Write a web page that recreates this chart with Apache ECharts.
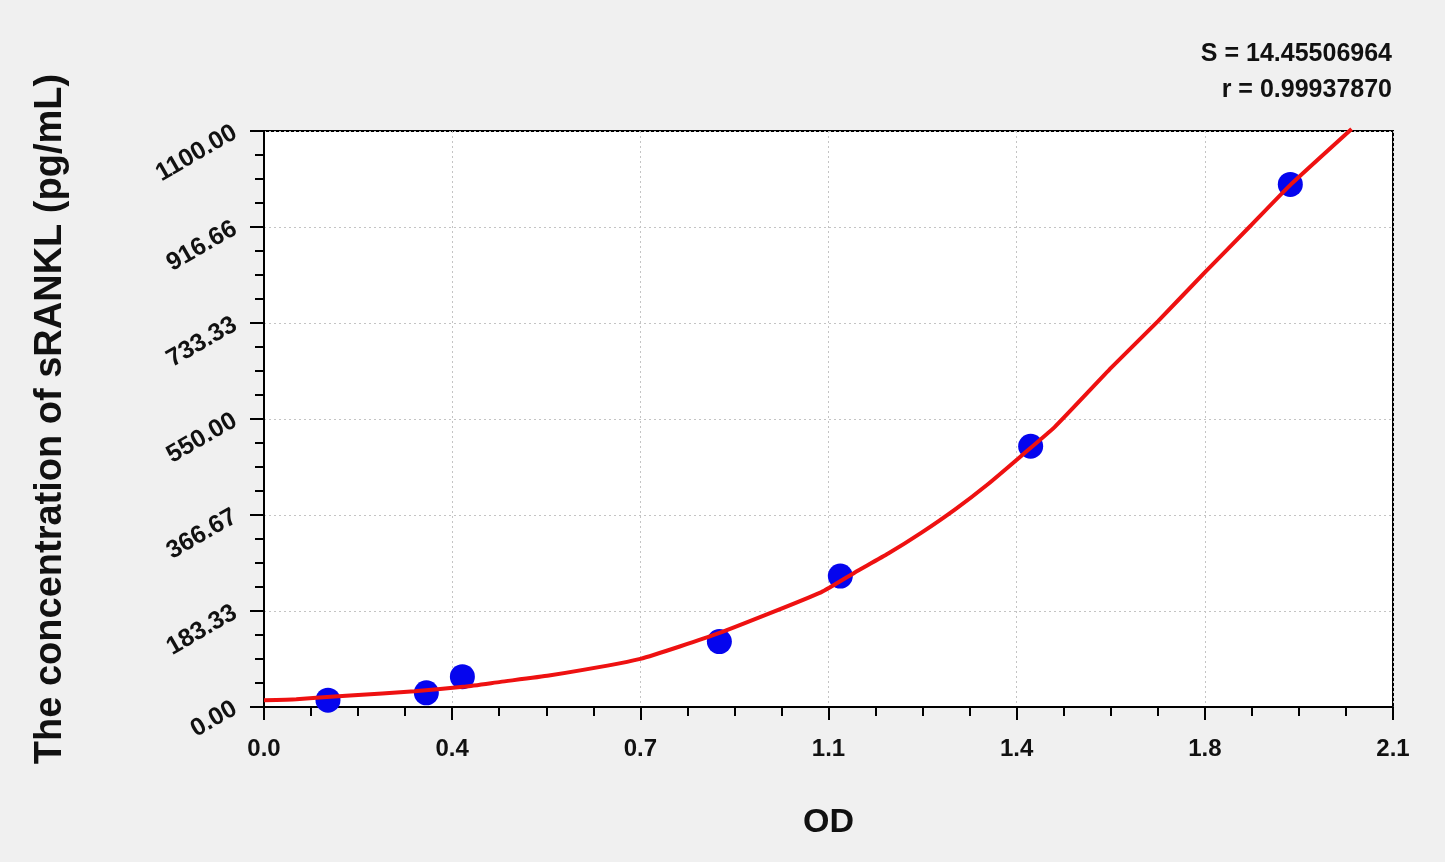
<!DOCTYPE html>
<head>
    <title>sRANKL standard curve</title>
    <script src="https://cdn.jsdelivr.net/npm/echarts@6/dist/echarts.min.js"></script>
    <style>
        html, body { margin: 0; padding: 0; background: #f0f0f0; }
        #chart { width: 1445px; height: 862px; }
    </style>
</head>
<body>
<div id="chart"></div>
<script>
    // standard points (OD, concentration)
    var odValues = [0.119, 0.302, 0.369, 0.847, 1.072, 1.426, 1.909];
    var concValues = [13, 27, 58, 125, 250, 498, 998];

    // fitted curve
    var curveOd = [0, 0.06, 0.16, 0.28, 0.375, 0.44, 0.53, 0.70, 0.846, 1.036, 1.099, 1.161, 1.223, 1.285, 1.347, 1.409, 1.471, 1.576, 1.663, 1.75, 1.836, 1.911, 2.023];
    var curveConc = [13, 15, 22, 30, 39, 48, 60, 92, 141, 219, 257, 293, 333, 377, 426, 480, 535, 648, 737, 830, 920, 999, 1104];

    var xTickLabels = ['0.0', '0.4', '0.7', '1.1', '1.4', '1.8', '2.1'];
    var yTickLabels = ['0.00', '183.33', '366.67', '550.00', '733.33', '916.66', '1100.00'];

    var statLines = ['S = 14.45506964', 'r = 0.99937870'];

    function pairs(xs, ys) {
        var out = [];
        for (var i = 0; i < xs.length; i++) {
            out.push([xs[i], ys[i]]);
        }
        return out;
    }

    var chart = echarts.init(document.getElementById('chart'));
    var fontFam = '"Liberation Sans", Arial, sans-serif';

    var statText = statLines.map(function (t, i) {
        return {
            type: 'text',
            right: 53,
            top: 33 + i * 36,
            style: {
                text: t,
                font: 'bold 25px ' + fontFam,
                fill: '#111',
                textAlign: 'right'
            }
        };
    });

    var option = {
        backgroundColor: '#f0f0f0',
        animation: false,
        graphic: statText,
        grid: {
            left: 264,
            right: 52,
            top: 131,
            bottom: 155,
            show: true,
            backgroundColor: '#ffffff',
            borderColor: '#000',
            borderWidth: 2
        },
        xAxis: {
            type: 'value',
            min: 0,
            max: 2.1,
            interval: 0.35,
            name: 'OD',
            nameLocation: 'middle',
            nameGap: 86,
            nameTextStyle: {
                fontFamily: fontFam,
                fontSize: 34,
                fontWeight: 'bold',
                color: '#111'
            },
            axisLine: { show: true, lineStyle: { color: '#000', width: 2 } },
            axisTick: { show: true, inside: false, length: 13, lineStyle: { color: '#000', width: 2 } },
            minorTick: { show: true, splitNumber: 4, length: 9, lineStyle: { color: '#000', width: 2 } },
            axisLabel: {
                margin: 22,
                fontFamily: fontFam,
                fontSize: 24,
                fontWeight: 'bold',
                color: '#111',
                formatter: function (v) {
                    var i = Math.round(v / 0.35);
                    return xTickLabels[i];
                }
            },
            splitLine: { show: true, lineStyle: { color: '#c4c4c4', type: [2, 3], width: 1 } }
        },
        yAxis: {
            type: 'value',
            min: 0,
            max: 1100,
            interval: 1100 / 6,
            name: 'The concentration of sRANKL (pg/mL)',
            nameLocation: 'middle',
            nameGap: 181,
            nameRotate: 90,
            nameTextStyle: {
                fontFamily: fontFam,
                fontSize: 38,
                fontWeight: 'bold',
                color: '#111'
            },
            axisLine: { show: true, lineStyle: { color: '#000', width: 2 } },
            axisTick: { show: true, inside: false, length: 14, lineStyle: { color: '#000', width: 2 } },
            minorTick: { show: true, splitNumber: 4, length: 9, lineStyle: { color: '#000', width: 2 } },
            axisLabel: {
                rotate: 30,
                margin: 29,
                fontFamily: fontFam,
                fontSize: 25,
                fontWeight: 'bold',
                color: '#111',
                formatter: function (v) {
                    var i = Math.round(v / (1100 / 6));
                    return yTickLabels[i];
                }
            },
            splitLine: { show: true, lineStyle: { color: '#c4c4c4', type: [2, 3], width: 1 } }
        },
        series: [
            {
                type: 'line',
                data: pairs(curveOd, curveConc),
                smooth: 0.15,
                showSymbol: false,
                clip: false,
                lineStyle: { color: '#ee1111', width: 4 },
                z: 3
            },
            {
                type: 'scatter',
                data: pairs(odValues, concValues),
                symbol: 'circle',
                symbolSize: 25,
                itemStyle: { color: '#0505ee', opacity: 1 },
                z: 2
            }
        ]
    };

    chart.setOption(option);
</script>
</body>
